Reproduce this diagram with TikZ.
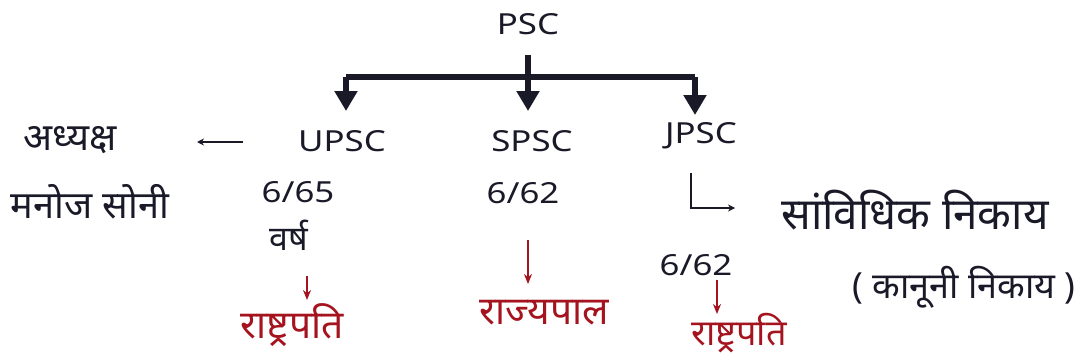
\documentclass[tikz,border=0pt]{standalone}
\usepackage{fontspec}
\setmainfont{Noto Sans}[Script=Devanagari]
\newfontfamily\latf{Noto Sans}[FakeStretch=1.2]
\usetikzlibrary{arrows.meta}
\definecolor{ink}{RGB}{25,25,40}
\definecolor{redink}{RGB}{165,20,30}
\tikzset{
  lbl/.style={font=\fontsize{38}{42}\selectfont, text=ink, inner sep=0pt},
  lat/.style={font=\latf\fontsize{29}{32}\selectfont, text=ink, inner sep=0pt},
  red/.style={font=\fontsize{39}{42}\selectfont, text=redink, inner sep=0pt},
  bar/.style={line width=6pt, draw=ink},
  bararr/.style={bar, -{Triangle[length=20pt,width=22pt]}},
  thin/.style={line width=1.8pt, draw=ink, -{Stealth[length=7pt,width=7pt]}},
  redarr/.style={line width=1.8pt, draw=redink, -{Stealth[length=10pt,width=8pt]}}
}
\begin{document}
\begin{tikzpicture}[x=1pt,y=-1pt]
\useasboundingbox[fill=white] (0,0) rectangle (1083,361);
% top
\node[lat] (psc) at (528,24) {PSC};
\node[lat] (upsc) at (342,141) {UPSC};
\node[lat] (spsc) at (532,141) {SPSC};
\node[lat] (jpsc) at (701,136) {JPSC};
\coordinate (ps) at (528,55);
\coordinate (ub) at (346,77);
\coordinate (jb) at (695,77);
\coordinate (ut) at (346,111);
\coordinate (st) at (528,111);
\coordinate (jt) at (695,115);
\draw[bar] (ub) -- (jb);
\draw[bararr] (ps) -- (st);
\draw[bararr] (ub) -- (ut);
\draw[bararr] (jb) -- (jt);
% left
\node[lbl] (adh) at (70,140) {अध्यक्ष};
\node[lbl] (manoj) at (90,202) {मनोज सोनी};
\coordinate (a1) at (243,142);
\coordinate (a2) at (197,142);
\draw[thin] (a1) -- (a2);
% UPSC column
\node[lat] (u1) at (298,192) {6/65};
\node[lbl, font=\fontsize{34}{40}\selectfont] (u2) at (289,235) {वर्ष};
\node[red] (ur) at (292,325) {राष्ट्रपति};
\coordinate (ur1) at (307,276);
\coordinate (ur2) at (307,300);
\draw[redarr] (ur1) -- (ur2);
% SPSC column
\node[lat] (s1) at (523,193) {6/62};
\node[red] (sr) at (544,313) {राज्यपाल};
\coordinate (sr1) at (528,240);
\coordinate (sr2) at (528,284);
\draw[redarr] (sr1) -- (sr2);
% JPSC column
\node[lbl, font=\fontsize{44}{48}\selectfont] (stat) at (915,210) {सांविधिक निकाय};
\node[lbl, font=\fontsize{36}{40}\selectfont] (kan) at (964,287) {( कानूनी निकाय )};
\coordinate (l1) at (691,173);
\coordinate (l2) at (691,208);
\coordinate (l3) at (735,208);
\draw[thin] (l1) -- (l2) -- (l3);
\node[lat] (j1) at (696,265) {6/62};
\node[red, font=\fontsize{36}{40}\selectfont] (jr) at (739,333) {राष्ट्रपति};
\coordinate (jr1) at (717,280);
\coordinate (jr2) at (717,314);
\draw[redarr] (jr1) -- (jr2);
\end{tikzpicture}
\end{document}
